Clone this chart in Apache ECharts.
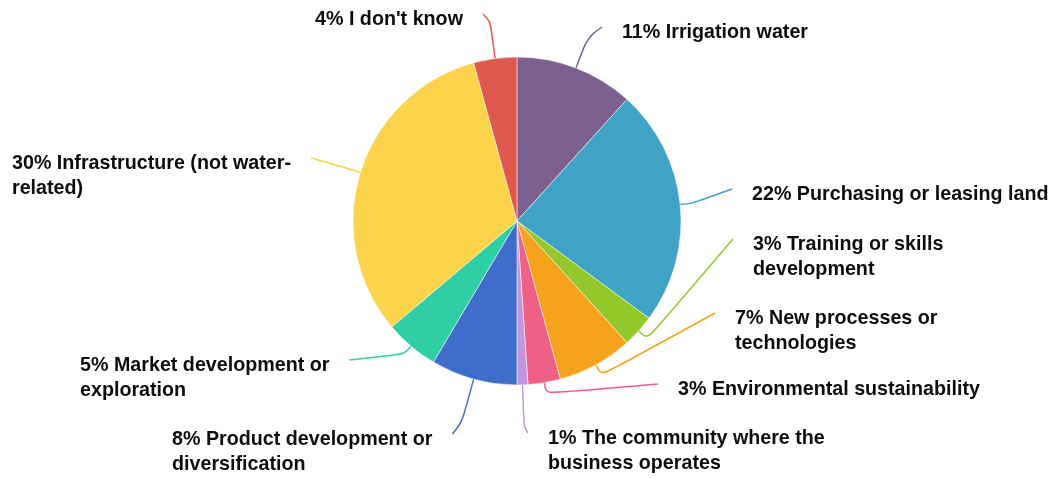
<!DOCTYPE html>
<html>
<head>
<meta charset="utf-8">
<script src="https://cdn.jsdelivr.net/npm/echarts@6/dist/echarts.min.js"></script>
<style>
  html, body { margin: 0; padding: 0; background: #fff; }
  #chart { width: 1058px; height: 478px; }
</style>
</head>
<body>
<div id="chart"></div>
<script>
// Where the funding would go: share of responses (%)
const categories = [
  'Irrigation water',
  'Purchasing or leasing land',
  'Training or skills\ndevelopment',
  'New processes or\ntechnologies',
  'Environmental sustainability',
  'The community where the\nbusiness operates',
  'Product development or\ndiversification',
  'Market development or\nexploration',
  'Infrastructure (not water-\nrelated)',
  "I don't know"
];
const shares = [11, 22, 3, 7, 3, 1, 8, 5, 30, 4];
const colors = [
  '#7b6090', '#40a3c5', '#93c82b', '#f5a31c', '#ef6184',
  '#c495dd', '#3f6dcb', '#2ecfa5', '#fcd44b', '#df5a4e'
];

// Label placement: left edge of the text and middle of its first line
const labelSpots = [
  [622, 32.5], [752, 194.5], [753, 244.5], [735, 318.5], [678, 389.5],
  [548, 438.5], [172, 439.5], [80, 365.5], [12, 163.5], [315, 19.5]
];
// Length of the radial first leg of each leader line
const elbowLengths = [33, 12, 12, 12, 11, 42, 45, 10, 20, 38];

const CENTER = [517, 221];
const RADIUS = 164;
const GAP = 20;          // room between a leader line's end and its text
const LINE_H = 25;       // text line height
const LINE_LIFT = 5.5;   // leader lines meet the text slightly above its first line's middle

const chart = echarts.init(document.getElementById('chart'), null, { renderer: 'canvas' });

chart.setOption({
  animation: false,
  color: colors,
  series: [{
    type: 'pie',
    center: CENTER,
    radius: RADIUS,
    startAngle: 90,
    clockwise: true,
    avoidLabelOverlap: false,
    itemStyle: { borderColor: '#fff', borderWidth: 0.5 },
    label: {
      show: true,
      formatter: (p) => p.value + '% ' + p.name,
      color: '#0d0d0d',
      fontFamily: 'Liberation Sans, Arial, sans-serif',
      fontWeight: 'bold',
      fontSize: 19.7,
      lineHeight: LINE_H,
      padding: [0, GAP]
    },
    labelLine: {
      show: true,
      smooth: 0.35,
      lineStyle: { width: 1.5 }
    },
    labelLayout: (params) => {
      const i = params.dataIndex;
      const spot = labelSpots[i];
      const rect = params.labelRect;
      const x = spot[0] - GAP;
      const y = spot[1] - LINE_H / 2;

      // leader line: sector edge -> radial elbow -> beside the text
      const p0 = params.labelLinePoints[0];
      const dx = p0[0] - CENTER[0];
      const dy = p0[1] - CENTER[1];
      const d = Math.sqrt(dx * dx + dy * dy);
      const p1 = [p0[0] + dx / d * elbowLengths[i], p0[1] + dy / d * elbowLengths[i]];
      const onLeft = dx < 0;
      const endX = onLeft ? x + rect.width : x;
      const p2 = [endX, spot[1] - LINE_LIFT];

      return {
        x: x,
        y: y,
        align: 'left',
        verticalAlign: 'top',
        labelLinePoints: [p0, p1, p2]
      };
    },
    data: categories.map((name, i) => ({ name, value: shares[i] }))
  }]
});
</script>
</body>
</html>
